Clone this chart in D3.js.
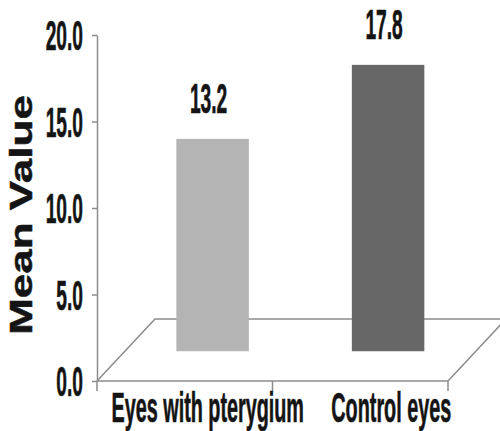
<!DOCTYPE html>
<html>
<head>
<meta charset="utf-8">
<script src="https://cdn.jsdelivr.net/npm/d3@7"></script>
<style>
  html, body { margin: 0; padding: 0; background: #fff; }
  svg { display: block; }
</style>
</head>
<body>
<svg id="chart" width="500" height="431"></svg>
<script>
// Mean value per group
const categories = ["Eyes with pterygium", "Control eyes"];
const meanValues = [13.2, 17.8];
const yTicks = [0, 5, 10, 15, 20];
const yTitle = "Mean Value";

const svg = d3.select("#chart");
const lineColor = "#8c8c8c";
const textColor = "#141414";
const fontFamily = "'Liberation Sans', Arial, sans-serif";
const sx = 0.6, sy = 1.3;      // tall, narrow label lettering

const plot = { left: 97, right: 448, top: 35, bottom: 381 };
const depth = { dx: 58, dy: -62 };   // offset of the back edge of the floor
const barDepth = 0.48;               // bars stand roughly mid-way into the floor

const y = d3.scaleLinear().domain([0, 20]).range([plot.bottom, plot.top]);
const x = d3.scaleBand().domain(categories).range([plot.left, plot.right]);

// bars are seen a little further away, so their value scale is slightly shorter
const baseX = depth.dx * barDepth;
const baseY = plot.bottom + depth.dy * barDepth;
const yBar = d3.scaleLinear().domain([0, 20])
  .range([baseY, baseY - (plot.bottom - plot.top) * 0.93]);

const colour = d3.scaleOrdinal().domain(categories).range(["#b4b4b4", "#676767"]);

function labelStyle(sel, size) {
  sel.attr("font-family", fontFamily)
    .attr("font-weight", "bold")
    .attr("font-size", size)
    .attr("fill", textColor)
    .attr("stroke", textColor)
    .attr("stroke-width", 0.5);
}

// floor outline (back edge and sides)
svg.append("path")
  .attr("d", d3.line()([
    [plot.left, plot.bottom],
    [plot.left + depth.dx, plot.bottom + depth.dy],
    [plot.right + depth.dx, plot.bottom + depth.dy],
    [plot.right, plot.bottom]
  ]))
  .attr("fill", "none")
  .attr("stroke", lineColor)
  .attr("stroke-width", 1.5);

// bars
const barW = x.bandwidth() * 0.413;
const data = categories.map((c, i) => ({ c, v: meanValues[i] }));

svg.append("g").selectAll("rect").data(data).join("rect")
  .attr("x", d => x(d.c) + baseX + (x.bandwidth() - barW) / 2)
  .attr("y", d => yBar(d.v))
  .attr("width", barW)
  .attr("height", d => baseY - yBar(d.v))
  .attr("fill", d => colour(d.c));

// value labels
svg.append("g").selectAll("text").data(data).join("text")
  .attr("transform", d =>
    `translate(${x(d.c) + baseX + x.bandwidth() / 2 - 4},${yBar(d.v) - 26}) scale(${sx},${sy})`)
  .attr("text-anchor", "middle")
  .call(labelStyle, 32)
  .text(d => d.v.toFixed(1));

// value axis
const yAxis = svg.append("g")
  .attr("transform", `translate(${plot.left},0)`)
  .call(d3.axisLeft(y).tickValues(yTicks).tickFormat(d3.format(".1f"))
    .tickSizeInner(5).tickSizeOuter(0));
yAxis.select(".domain").attr("stroke", lineColor).attr("stroke-width", 1.5);
yAxis.selectAll(".tick line").attr("stroke", lineColor).attr("stroke-width", 1.5);
yAxis.selectAll(".tick text")
  .attr("x", 0)
  .attr("dy", "0.36em")
  .attr("transform", `translate(-14,0) scale(${sx},${sy})`)
  .call(labelStyle, 32);

// category axis: baseline, boundary ticks and labels
svg.append("line")
  .attr("x1", plot.left).attr("x2", plot.right)
  .attr("y1", plot.bottom).attr("y2", plot.bottom)
  .attr("stroke", lineColor).attr("stroke-width", 1.5);

const bounds = [plot.left, ...categories.map(c => x(c) + x.bandwidth())];
svg.append("g").selectAll("line").data(bounds).join("line")
  .attr("x1", d => d).attr("x2", d => d)
  .attr("y1", plot.bottom).attr("y2", plot.bottom + 10)
  .attr("stroke", lineColor).attr("stroke-width", 1.5);

svg.append("g").selectAll("text").data(categories).join("text")
  .attr("transform", (c, i) =>
    `translate(${x(c) + x.bandwidth() / 2 + 23 + i * 8},${plot.bottom + 41}) scale(${sx},${sy})`)
  .attr("text-anchor", "middle")
  .call(labelStyle, 33)
  .text(c => c);

// value axis title
svg.append("text")
  .attr("transform", "translate(32,215) rotate(-90) scale(1.42,1)")
  .attr("text-anchor", "middle")
  .call(labelStyle, 31)
  .text(yTitle);
</script>
</body>
</html>
